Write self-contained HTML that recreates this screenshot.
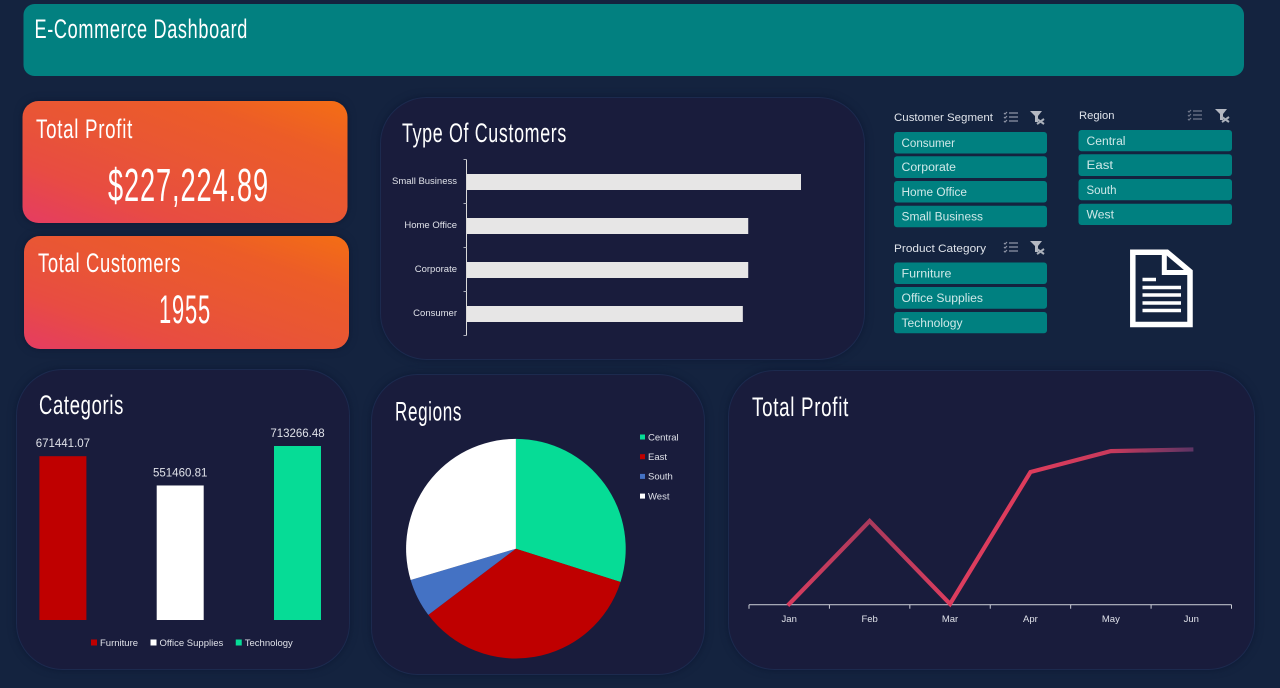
<!DOCTYPE html>
<html lang="en">
<head>
<meta charset="utf-8">
<title>E-Commerce Dashboard</title>
<style>
html,body{margin:0;padding:0;background:#14233f;width:1280px;height:688px;overflow:hidden}
svg{display:block;font-family:"Liberation Sans",sans-serif}
.h{fill:#fff;font-size:27px;letter-spacing:1px}
.sl{fill:#dfe3ea;font-size:11px}
.bt{fill:#cfe8e8;font-size:11.5px}
.ax{fill:#dfe1e8;font-size:9.5px}
</style>
</head>
<body>
<svg id="root" width="1280" height="688" viewBox="0 0 1280 688">
<defs>
<linearGradient id="kpi" x1="0" y1="1" x2="1" y2="0">
<stop offset="0" stop-color="#e53c62"/><stop offset=".25" stop-color="#e84c42"/><stop offset=".5" stop-color="#e95634"/><stop offset=".75" stop-color="#ec5c28"/><stop offset="1" stop-color="#f46e14"/>
</linearGradient>
<linearGradient id="lineGrad" gradientUnits="userSpaceOnUse" x1="789" y1="0" x2="1192" y2="0">
<stop offset="0" stop-color="#d83c5e"/><stop offset=".2" stop-color="#aa3a5c"/><stop offset=".4" stop-color="#dc3d5e"/><stop offset=".6" stop-color="#dd3c5c"/><stop offset=".8" stop-color="#c83a5c"/><stop offset="1" stop-color="#5e3464"/>
</linearGradient>
<filter id="sh" x="-10%" y="-10%" width="120%" height="120%" color-interpolation-filters="sRGB">
<feDropShadow dx="0" dy="0" stdDeviation="4" flood-color="#0a1530" flood-opacity=".75"/>
</filter>
</defs>

<rect width="1280" height="688" fill="#14233f"/>

<g>
<rect x="23.5" y="4" width="1220.5" height="72" rx="11" fill="#028080"/>
<text x="34.5" y="38" class="h" textLength="213.5" lengthAdjust="spacingAndGlyphs">E-Commerce Dashboard</text>
</g>

<g>
<rect x="22.5" y="101" width="325" height="122" rx="16" fill="url(#kpi)" filter="url(#sh)"/>
<text x="36" y="138" class="h" textLength="97" lengthAdjust="spacingAndGlyphs">Total Profit</text>
<text x="108" y="201" fill="#fff" style="font-size:46px;letter-spacing:1.5px" textLength="161" lengthAdjust="spacingAndGlyphs">$227,224.89</text>
</g>

<g>
<rect x="24" y="236" width="325" height="113" rx="16" fill="url(#kpi)" filter="url(#sh)"/>
<text x="38" y="272" class="h" textLength="143" lengthAdjust="spacingAndGlyphs">Total Customers</text>
<text x="159" y="323" fill="#fff" style="font-size:40px;letter-spacing:1.5px" textLength="52" lengthAdjust="spacingAndGlyphs">1955</text>
</g>

<g>
<rect x="380.5" y="97.5" width="484" height="262" rx="46" fill="#191c3c" stroke="#1c2a4e" filter="url(#sh)"/>
<text x="402" y="142" class="h" textLength="165" lengthAdjust="spacingAndGlyphs">Type Of Customers</text>
<g id="hbar"></g>
</g>

<g>
<rect x="16.5" y="369.5" width="333" height="300" rx="46" fill="#191c3c" stroke="#1c2a4e" filter="url(#sh)"/>
<text x="39" y="414" class="h" textLength="85" lengthAdjust="spacingAndGlyphs">Categoris</text>
<g id="vbar"></g>
</g>

<g>
<rect x="371.5" y="374.5" width="333" height="300" rx="46" fill="#191c3c" stroke="#1c2a4e" filter="url(#sh)"/>
<text x="395" y="420.5" class="h" textLength="67" lengthAdjust="spacingAndGlyphs">Regions</text>
<g id="pie"></g>
</g>

<g>
<rect x="728.5" y="370.5" width="526" height="299" rx="46" fill="#191c3c" stroke="#1c2a4e" filter="url(#sh)"/>
<text x="752" y="416" class="h" textLength="97" lengthAdjust="spacingAndGlyphs">Total Profit</text>
<g id="line"></g>
</g>

<g>
<text x="894" y="121" class="sl" textLength="99" lengthAdjust="spacingAndGlyphs">Customer Segment</text>
<g transform="translate(1003,111)" stroke="#8f95a6" stroke-width="1.2" fill="none"><path d="M6 2H15M6 6H15M6 10H15M1 2l1 1 2-2M1 6l1 1 2-2M1 10l1 1 2-2"/></g>
<g transform="translate(1030,111)"><path d="M0 0H12L8 5V11H5V5Z" fill="#b4b8c2"/><path d="M7 8L14 13M14 8L7 13" stroke="#aab0ba" stroke-width="2"/></g>
<g><rect x="894" y="132" width="153" height="21.5" rx="3" fill="#008080"/><text x="901.5" y="146.8" class="bt" textLength="53.5" lengthAdjust="spacingAndGlyphs">Consumer</text></g>
<g><rect x="894" y="156.3" width="153" height="21.7" rx="3" fill="#008080"/><text x="901.5" y="171.2" class="bt" textLength="54.5" lengthAdjust="spacingAndGlyphs">Corporate</text></g>
<g><rect x="894" y="181" width="153" height="21.5" rx="3" fill="#008080"/><text x="901.5" y="195.8" class="bt" textLength="65.5" lengthAdjust="spacingAndGlyphs">Home Office</text></g>
<g><rect x="894" y="205.7" width="153" height="21.5" rx="3" fill="#008080"/><text x="901.5" y="220.4" class="bt" textLength="81.5" lengthAdjust="spacingAndGlyphs">Small Business</text></g>
</g>

<g>
<text x="894" y="252" class="sl" textLength="92" lengthAdjust="spacingAndGlyphs">Product Category</text>
<g transform="translate(1003,241)" stroke="#8f95a6" stroke-width="1.2" fill="none"><path d="M6 2H15M6 6H15M6 10H15M1 2l1 1 2-2M1 6l1 1 2-2M1 10l1 1 2-2"/></g>
<g transform="translate(1030,241)"><path d="M0 0H12L8 5V11H5V5Z" fill="#b4b8c2"/><path d="M7 8L14 13M14 8L7 13" stroke="#aab0ba" stroke-width="2"/></g>
<g><rect x="894" y="262.5" width="153" height="21.5" rx="3" fill="#008080"/><text x="901.5" y="277.4" class="bt" textLength="50" lengthAdjust="spacingAndGlyphs">Furniture</text></g>
<g><rect x="894" y="287" width="153" height="21.7" rx="3" fill="#008080"/><text x="901.5" y="302.2" class="bt" textLength="81.5" lengthAdjust="spacingAndGlyphs">Office Supplies</text></g>
<g><rect x="894" y="312" width="153" height="21.3" rx="3" fill="#008080"/><text x="901.5" y="326.8" class="bt" textLength="61" lengthAdjust="spacingAndGlyphs">Technology</text></g>
</g>

<g>
<text x="1079" y="119" class="sl" textLength="35.5" lengthAdjust="spacingAndGlyphs">Region</text>
<g transform="translate(1187,109)" stroke="#71788c" stroke-width="1.2" fill="none"><path d="M6 2H15M6 6H15M6 10H15M1 2l1 1 2-2M1 6l1 1 2-2M1 10l1 1 2-2"/></g>
<g transform="translate(1215,109)"><path d="M0 0H12L8 5V11H5V5Z" fill="#b4b8c2"/><path d="M7 8L14 13M14 8L7 13" stroke="#aab0ba" stroke-width="2"/></g>
<g><rect x="1078.5" y="130" width="153.5" height="21.3" rx="3" fill="#008080"/><text x="1086.5" y="144.8" class="bt" textLength="39" lengthAdjust="spacingAndGlyphs">Central</text></g>
<g><rect x="1078.5" y="154.3" width="153.5" height="21.7" rx="3" fill="#008080"/><text x="1086.5" y="169.2" class="bt" textLength="26.5" lengthAdjust="spacingAndGlyphs">East</text></g>
<g><rect x="1078.5" y="179" width="153.5" height="21.3" rx="3" fill="#008080"/><text x="1086.5" y="193.8" class="bt" textLength="30" lengthAdjust="spacingAndGlyphs">South</text></g>
<g><rect x="1078.5" y="203.7" width="153.5" height="21.3" rx="3" fill="#008080"/><text x="1086.5" y="218.4" class="bt" textLength="27.5" lengthAdjust="spacingAndGlyphs">West</text></g>
</g>

<g>
<path d="M1132.8 252.2H1167L1190 271.5V324.5H1132.8Z" fill="#14233f" stroke="#fff" stroke-width="5.5"/>
<path d="M1164.3 252V272.5H1190" fill="none" stroke="#fff" stroke-width="5"/>
<path d="M1142.5 279.5H1156M1142.5 287.5H1181M1142.5 295H1181M1142.5 303H1181M1142.5 310.5H1181" stroke="#fff" stroke-width="3.4"/>
</g>

<script>
var NS = 'http://www.w3.org/2000/svg';

var customerTypes = ['Small Business', 'Home Office', 'Corporate', 'Consumer'];
var customerCounts = [557, 469, 469, 460];

var categoryNames = ['Furniture', 'Office Supplies', 'Technology'];
var categorySales = [671441.07, 551460.81, 713266.48];
var categoryLabels = ['671441.07', '551460.81', '713266.48'];
var categoryColors = ['#bf0000', '#ffffff', '#06dc96'];

var regionNames = ['Central', 'East', 'South', 'West'];
var regionShares = [29.9, 34.8, 5.7, 29.6];
var regionColors = ['#06dc96', '#bf0000', '#4472c4', '#ffffff'];

var months = ['Jan', 'Feb', 'Mar', 'Apr', 'May', 'Jun'];
var monthlyProfit = [0, 36100, 0, 57400, 66500, 67200];

function mk(parent, tag, attrs, txt) {
  var e = document.createElementNS(NS, tag);
  for (var k in attrs) e.setAttribute(k, attrs[k]);
  if (txt !== undefined) e.textContent = txt;
  parent.appendChild(e);
  return e;
}

/* horizontal bar chart */
(function () {
  var g = document.getElementById('hbar');
  var x0 = 467, top = 159.5, band = 44, bh = 16;
  var maxV = Math.max.apply(null, customerCounts);
  function xScale(v) { return x0 + v / maxV * 334; }
  function yScale(i) { return top + band * i; }
  customerTypes.forEach(function (name, i) {
    var bar = mk(g, 'rect', { x: x0, y: yScale(i) + band / 2 - bh / 2 + 0.5, width: xScale(customerCounts[i]) - x0, height: bh, fill: '#e7e6e6' });
    
    
    var lab = mk(g, 'text', { x: 457, y: yScale(i) + band / 2 + 2.5, 'text-anchor': 'end', 'class': 'ax' }, name);
    
    
  });
  var axis = mk(g, 'line', { x1: x0 - 0.5, x2: x0 - 0.5, y1: top, y2: yScale(customerTypes.length), stroke: '#d9d9d9', 'stroke-width': 1 });
  
  
  for (var i = 0; i <= customerTypes.length; i++) {
    var t = mk(g, 'line', { x1: x0 - 3.5, x2: x0 - 0.5, y1: yScale(i), y2: yScale(i), stroke: '#a9acb8', 'stroke-width': 1 });
    
    
  }
})();

/* column chart */
(function () {
  var g = document.getElementById('vbar');
  var base = 620, bw = 47, first = 62.9, step = 117.3;
  var maxV = Math.max.apply(null, categorySales);
  function h(v) { return v / maxV * 174; }
  categoryNames.forEach(function (name, i) {
    var cx = first + step * i, bh = h(categorySales[i]);
    var bar = mk(g, 'rect', { x: cx - bw / 2, y: base - bh, width: bw, height: bh, fill: categoryColors[i] });
    
    
    var lab = mk(g, 'text', { x: cx, y: base - bh - 9, 'text-anchor': 'middle', fill: '#dfe1e8', 'font-size': 11.5 }, categoryLabels[i]);
    
    
  });
  var lx = 91;
  categoryNames.forEach(function (name, i) {
    var sw = mk(g, 'rect', { x: lx, y: 639.5, width: 6, height: 6, fill: categoryColors[i] });
    
    
    var t = mk(g, 'text', { x: lx + 9, y: 646, 'class': 'ax' }, name);
    
    
    lx += 9 + t.getComputedTextLength() + 12.5;
  });
})();

/* pie chart */
(function () {
  var g = document.getElementById('pie');
  var cx = 515.9, cy = 548.7, r = 109.8;
  var total = regionShares.reduce(function (a, b) { return a + b; }, 0);
  var acc = 0;
  function pt(a) { return (cx + r * Math.sin(a)).toFixed(2) + ' ' + (cy - r * Math.cos(a)).toFixed(2); }
  regionNames.forEach(function (name, i) {
    var a0 = acc / total * 2 * Math.PI;
    acc += regionShares[i];
    var a1 = acc / total * 2 * Math.PI;
    var large = a1 - a0 > Math.PI ? 1 : 0;
    var p = mk(g, 'path', { d: 'M' + cx + ' ' + cy + 'L' + pt(a0) + 'A' + r + ' ' + r + ' 0 ' + large + ' 1 ' + pt(a1) + 'Z', fill: regionColors[i] });
    
    
    var ly = 437 + 19.7 * i;
    var sw = mk(g, 'rect', { x: 640, y: ly - 2.5, width: 5, height: 5, fill: regionColors[i] });
    
    
    var t = mk(g, 'text', { x: 648, y: ly + 3.3, 'class': 'ax' }, name);
    
    
  });
})();

/* line chart */
(function () {
  var g = document.getElementById('line');
  var x0 = 749, x1 = 1231.5, y0 = 604.7;
  var band = (x1 - x0) / months.length;
  var maxV = Math.max.apply(null, monthlyProfit);
  function xS(i) { return x0 + band * (i + 0.5); }
  function yS(v) { return y0 - 0.7 - v / maxV * 154.5; }
  var axis = mk(g, 'line', { x1: x0, x2: x1, y1: y0, y2: y0, stroke: '#b9bbc6', 'stroke-width': 1.2 });
  
  
  for (var i = 0; i <= months.length; i++) {
    var t = mk(g, 'line', { x1: x0 + band * i, x2: x0 + band * i, y1: y0, y2: y0 + 4, stroke: '#c9cbd4', 'stroke-width': 1 });
    
    
  }
  months.forEach(function (m, i) {
    var lab = mk(g, 'text', { x: xS(i), y: 622, 'text-anchor': 'middle', 'class': 'ax' }, m);
    
    
  });
  var pts = monthlyProfit.map(function (v, i) { return xS(i).toFixed(2) + ',' + yS(v).toFixed(2); }).join(' ');
  var pl = mk(g, 'polyline', { points: pts, fill: 'none', stroke: 'url(#lineGrad)', 'stroke-width': 4.2, 'stroke-linejoin': 'miter', 'stroke-linecap': 'square' });
  
  
})();
</script>
</svg>
</body>
</html>
